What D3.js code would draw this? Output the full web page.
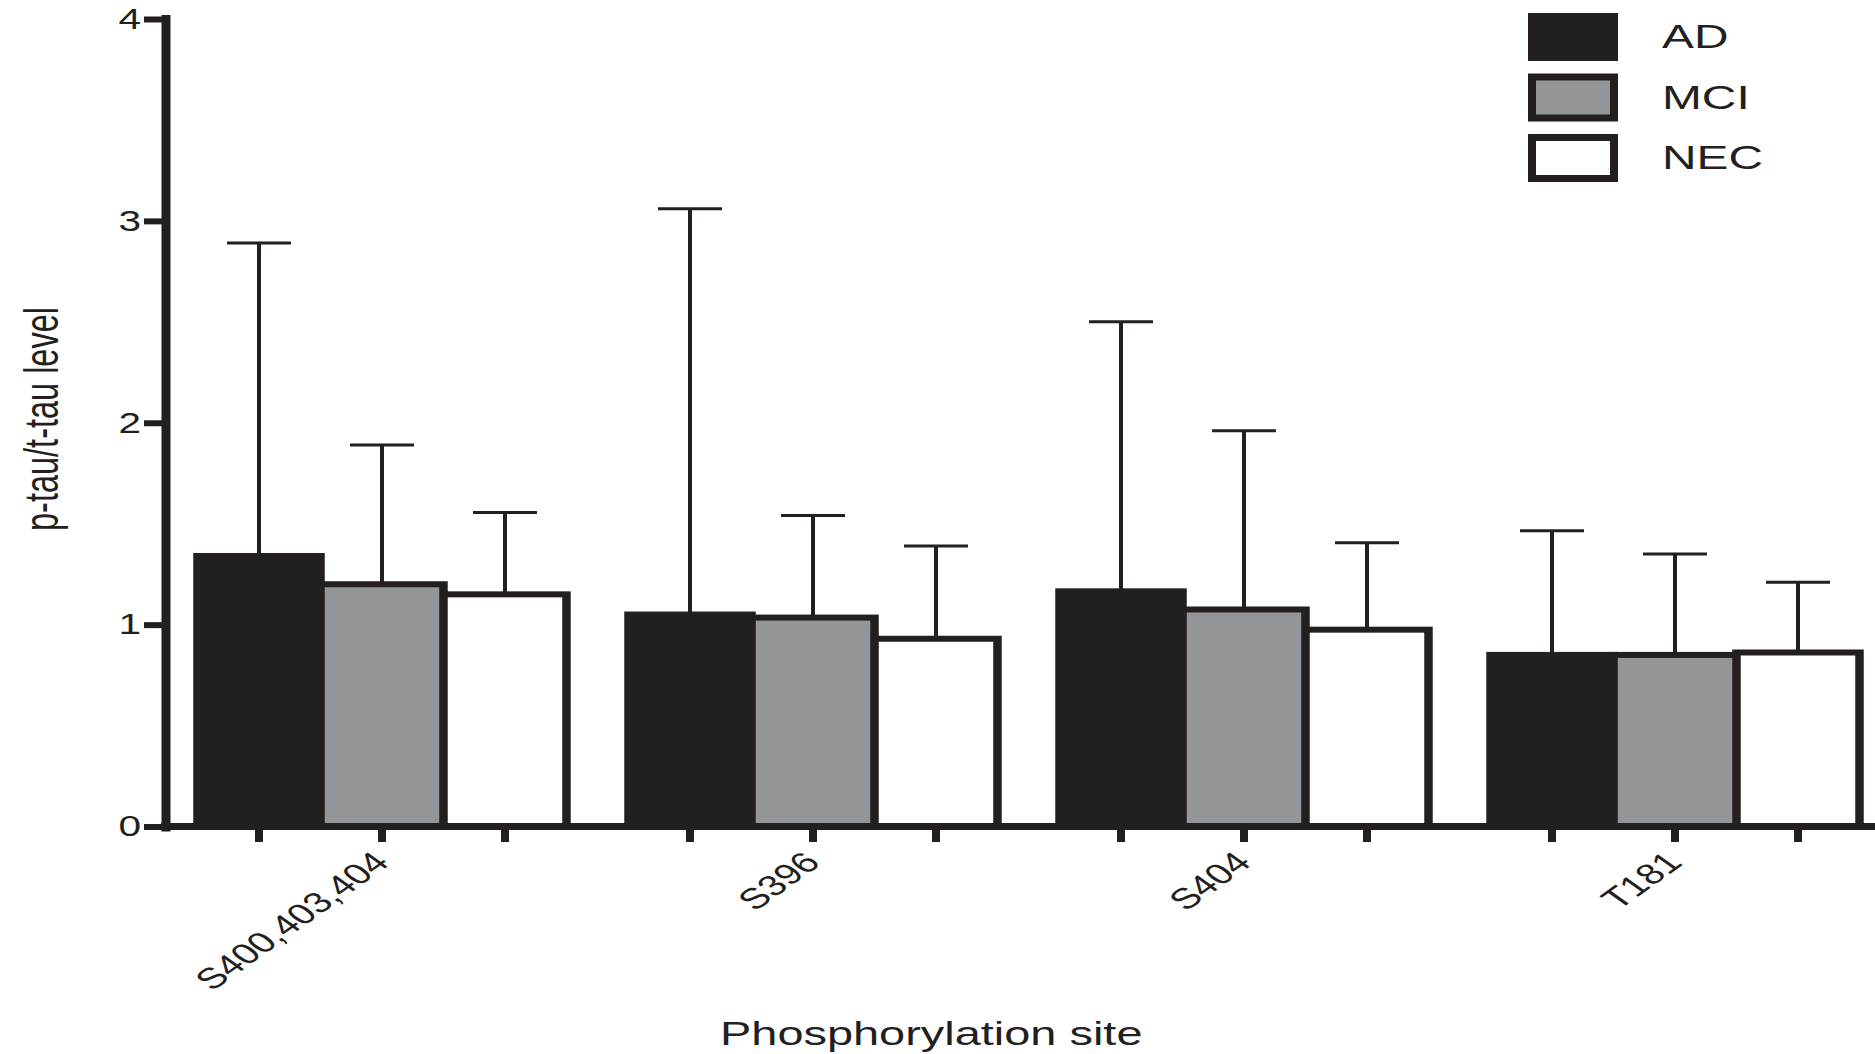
<!DOCTYPE html>
<html>
<head>
<meta charset="utf-8">
<script src="https://cdn.jsdelivr.net/npm/d3@7"></script>
<style>
  body { margin: 0; background: #fff; }
  text { font-family: "Liberation Sans", Arial, sans-serif; fill: #231f20; }
</style>
</head>
<body>
<script>
// Data
const sites = ["S400,403,404", "S396", "S404", "T181"];
const groups = ["AD", "MCI", "NEC"];
const adMean = [1.34, 1.05, 1.165, 0.85];
const adSD = [1.55, 2.01, 1.335, 0.615];
const mciMean = [1.20, 1.035, 1.075, 0.85];
const mciSD = [0.69, 0.505, 0.885, 0.50];
const necMean = [1.15, 0.93, 0.975, 0.862];
const necSD = [0.405, 0.46, 0.43, 0.348];
const yTicks = [0, 1, 2, 3, 4];

// Canvas setup
const canvasWidth = 1875;
const canvasHeight = 1054;
const black = "#231f20";
const gray = "#939598";
const fills = { AD: black, MCI: gray, NEC: "#ffffff" };

const svg = d3.select("body")
    .append("svg")
    .attr("width", canvasWidth)
    .attr("height", canvasHeight);

const means = { AD: adMean, MCI: mciMean, NEC: necMean };
const sds = { AD: adSD, MCI: mciSD, NEC: necSD };

let data = [];
sites.forEach((s, i) => {
    groups.forEach(g => {
        data.push({ site: s, group: g, mean: means[g][i], sd: sds[g][i] });
    });
});

// Scales
const y = d3.scaleLinear().domain([0, 4]).range([826.5, 19]);
const x0 = d3.scaleBand().domain(sites).range([197.5, 1859.5]).paddingInner(0.1439);
const x1 = d3.scaleBand().domain(groups).range([0, x0.bandwidth()]);
const bw = x1.bandwidth();
const bx = d => x0(d.site) + x1(d.group);

// Bars: black outline rect with inset fill
const bars = svg.append("g").classed("bars", true);
bars.selectAll("rect.outer")
    .data(data)
    .join("rect")
    .classed("outer", true)
    .attr("x", d => bx(d) - 4.25)
    .attr("y", d => y(d.mean) - 3)
    .attr("width", bw + 8.5)
    .attr("height", d => y(0) - y(d.mean) + 3)
    .attr("fill", black);

bars.selectAll("rect.inner")
    .data(data)
    .join("rect")
    .classed("inner", true)
    .attr("x", d => bx(d) + 4.25)
    .attr("y", d => y(d.mean) + 3)
    .attr("width", bw - 8.5)
    .attr("height", d => y(0) - y(d.mean) - 3)
    .attr("fill", d => fills[d.group]);

// Error bars (upper only)
const errs = svg.append("g").classed("errors", true);
errs.selectAll("line.stem")
    .data(data)
    .join("line")
    .attr("x1", d => bx(d) + bw / 2)
    .attr("x2", d => bx(d) + bw / 2)
    .attr("y1", d => y(d.mean))
    .attr("y2", d => y(d.mean + d.sd))
    .attr("stroke", black)
    .attr("stroke-width", 4);

errs.selectAll("line.cap")
    .data(data)
    .join("line")
    .attr("x1", d => bx(d) + bw / 2 - 32)
    .attr("x2", d => bx(d) + bw / 2 + 32)
    .attr("y1", d => y(d.mean + d.sd))
    .attr("y2", d => y(d.mean + d.sd))
    .attr("stroke", black)
    .attr("stroke-width", 3);

// X ticks under each bar
svg.append("g").selectAll("line")
    .data(data)
    .join("line")
    .attr("x1", d => bx(d) + bw / 2)
    .attr("x2", d => bx(d) + bw / 2)
    .attr("y1", y(0))
    .attr("y2", 842)
    .attr("stroke", black)
    .attr("stroke-width", 8);

// X axis (labels at group centres)
const xAxis = svg.append("g")
    .attr("transform", `translate(0,${y(0)})`)
    .call(d3.axisBottom(x0).tickSize(0).tickSizeOuter(0));
xAxis.select(".domain").remove();
xAxis.selectAll("text")
    .attr("x", null)
    .attr("y", null)
    .attr("dy", null)
    .attr("text-anchor", "end")
    .attr("font-size", 29)
    .attr("font-family", null)
    .attr("transform", "translate(9,37.5) scale(1.4,1) rotate(-45)");

svg.append("line")
    .attr("x1", 161).attr("x2", canvasWidth)
    .attr("y1", y(0)).attr("y2", y(0))
    .attr("stroke", black)
    .attr("stroke-width", 7);

// Y axis
const yAxis = svg.append("g")
    .attr("transform", "translate(165.5,0)")
    .call(d3.axisLeft(y).tickValues(yTicks).tickFormat(d3.format("d")).tickSize(21.5).tickSizeOuter(0));
yAxis.select(".domain")
    .attr("stroke", black)
    .attr("stroke-width", 9)
    .attr("stroke-linecap", "square");
yAxis.selectAll(".tick line")
    .attr("stroke", black)
    .attr("stroke-width", 6);
yAxis.selectAll("text")
    .attr("x", null)
    .attr("font-size", 29)
    .attr("font-family", null)
    .attr("transform", "translate(-24.5,0) scale(1.4,1)");

// Axis titles
svg.append("text")
    .attr("transform", "translate(58,419) scale(1.5,1) rotate(-90)")
    .attr("text-anchor", "middle")
    .attr("font-size", 32.5)
    .text("p-tau/t-tau level");

svg.append("text")
    .attr("transform", "translate(720,1045) scale(1.38,1)")
    .attr("font-size", 34)
    .text("Phosphorylation site");

// Legend
const legend = svg.append("g").attr("transform", "translate(1528,13)");
const items = legend.selectAll("g")
    .data(groups)
    .join("g")
    .attr("transform", (d, i) => `translate(0,${i * 60.5})`);
items.append("rect")
    .attr("width", 90).attr("height", 48)
    .attr("fill", black);
items.append("rect")
    .attr("x", 8).attr("y", 7)
    .attr("width", 74).attr("height", 34)
    .attr("fill", d => fills[d]);
items.append("text")
    .attr("transform", "translate(134,35) scale(1.45,1)")
    .attr("font-size", 33)
    .text(d => d);
</script>
</body>
</html>
